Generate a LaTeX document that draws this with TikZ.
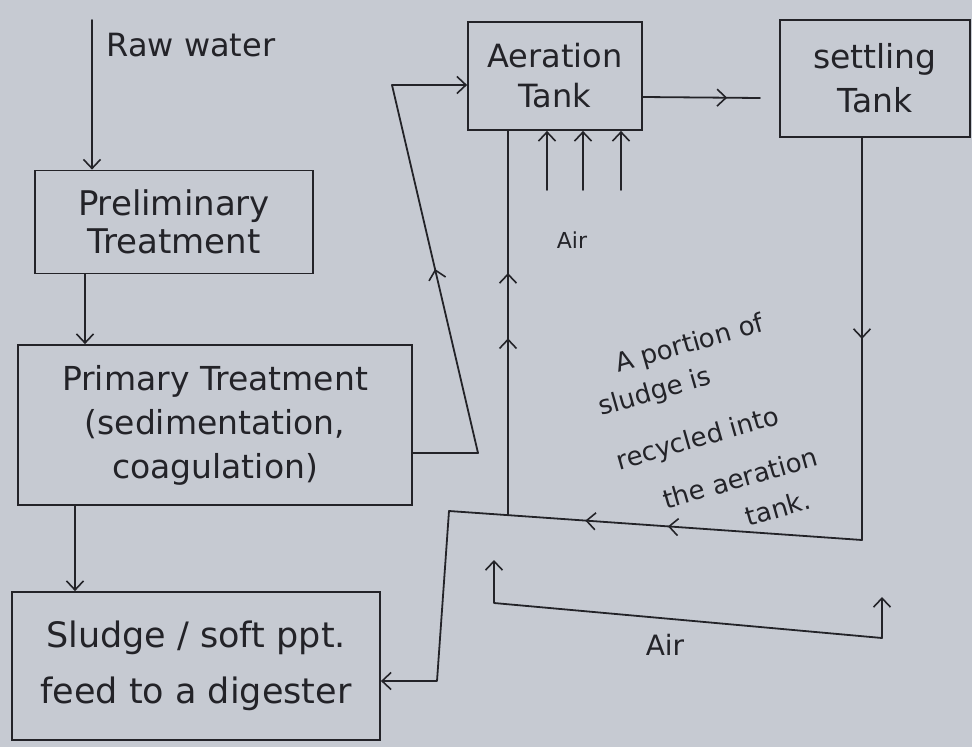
\documentclass[tikz,border=0pt]{standalone}
\usepackage{fontspec}
\setmainfont{DejaVu Sans}
\usetikzlibrary{arrows.meta,decorations.markings,calc}
\definecolor{paper}{RGB}{198,202,210}
\definecolor{ink}{RGB}{35,35,40}
\begin{document}
\begin{tikzpicture}[x=1pt,y=-1pt,
  hbarb/.tip={Straight Barb[length=9pt,width=17pt,line width=1.6pt]},
  every node/.style={text=ink},
  box/.style={draw=ink, line width=1.8pt, inner sep=0pt, align=center},
  wire/.style={draw=ink, line width=1.8pt, line cap=round, line join=round},
  arr/.style={wire, -hbarb},
  both/.style={wire, hbarb-hbarb},
  midtip/.style={postaction={decorate}, decoration={markings,
      mark=at position #1 with {\arrow[ink]{hbarb}}}},
  midtips/.style 2 args={postaction={decorate}, decoration={markings,
      mark=at position #1 with {\arrow[ink]{hbarb}},
      mark=at position #2 with {\arrow[ink]{hbarb}}}},
  notetext/.style={rotate=16, inner sep=1pt, font=\fontsize{26}{30}\selectfont}
]
\fill[paper] (0,0) rectangle (972,747);
\useasboundingbox (0,0) rectangle (972,747);

% boxes
\node[box, minimum width=278pt, minimum height=103pt, font=\fontsize{34}{38}\selectfont] (prelim) at (174,222) {Preliminary\\Treatment};
\node[box, minimum width=394pt, minimum height=160pt, font=\fontsize{33}{44}\selectfont] (primary) at (215,425) {Primary Treatment\\(sedimentation,\\coagulation)};
\node[box, minimum width=368pt, minimum height=148pt, font=\fontsize{35}{56}\selectfont] (sludge) at (196,666) {Sludge / soft ppt.\\feed to a digester};
\node[box, minimum width=174pt, minimum height=108pt, font=\fontsize{32}{40}\selectfont] (aer) at (555,76) {Aeration\\Tank};
\node[box, minimum width=190pt, minimum height=117pt, font=\fontsize{33}{44}\selectfont] (settle) at (875,78.5) {settling\\Tank};

% labels
\node[anchor=west, font=\fontsize{32}{36}\selectfont] (raw) at (103,45) {Raw water};
\node[font=\fontsize{22}{26}\selectfont] (air1) at (572,240) {Air};
\node[font=\fontsize{28}{32}\selectfont] (air2) at (665,645) {Air};
\node[notetext] (n1) at (690,345) {A portion of};
\node[notetext] (n2) at (655,393) {sludge is};
\node[notetext] (n3) at (698,440) {recycled into};
\node[notetext] (n4) at (740,478) {the aeration};
\node[notetext] (n5) at (778,508) {tank.};

% raw water in
\coordinate (rawtop) at (92,20);
\draw[arr] (rawtop) -- (rawtop |- prelim.north);

% main train
\coordinate (x85) at (85,0);
\draw[arr] (prelim.south -| x85) -- (primary.north -| x85);
\coordinate (x75) at (75,0);
\draw[arr] (primary.south -| x75) -- (sludge.north -| x75);

% primary to aeration
\coordinate (f1) at (478,453);
\coordinate (f2) at (392,85);
\draw[wire] (primary.east |- f1) -- (f1);
\draw[wire, midtip=0.5] (f1) -- (f2);
\draw[arr] (f2) -- (aer.west |- f2);

% aeration to settling
\coordinate (a1) at (0,97);
\coordinate (a2) at (760,98);
\draw[wire, midtip=0.72] (aer.east |- a1) -- (a2);

% air into aeration tank
\foreach \x in {547,583,621}{
  \coordinate (ai\x) at (\x,190);
  \draw[arr] (ai\x) -- (ai\x |- aer.south);
}

% settled sludge return
\coordinate (s1) at (862,540);
\coordinate (s2) at (449,511);
\coordinate (s3) at (437,681);
\coordinate (r1) at (508,515);
\draw[wire, midtip=0.5] (settle.south -| s1) -- (s1);
\draw[wire, midtips={0.47}{0.67}] (s1) -- (s2);
\draw[wire, midtips={0.46}{0.63}] (r1) -- (r1 |- aer.south);
\draw[arr] (s2) -- (s3) -- (sludge.east |- s3);

% bottom air line
\coordinate (b1) at (494,560);
\coordinate (b2) at (494,603);
\coordinate (b3) at (882,638);
\coordinate (b4) at (882,597);
\draw[both] (b1) -- (b2) -- (b3) -- (b4);
\end{tikzpicture}
\end{document}
